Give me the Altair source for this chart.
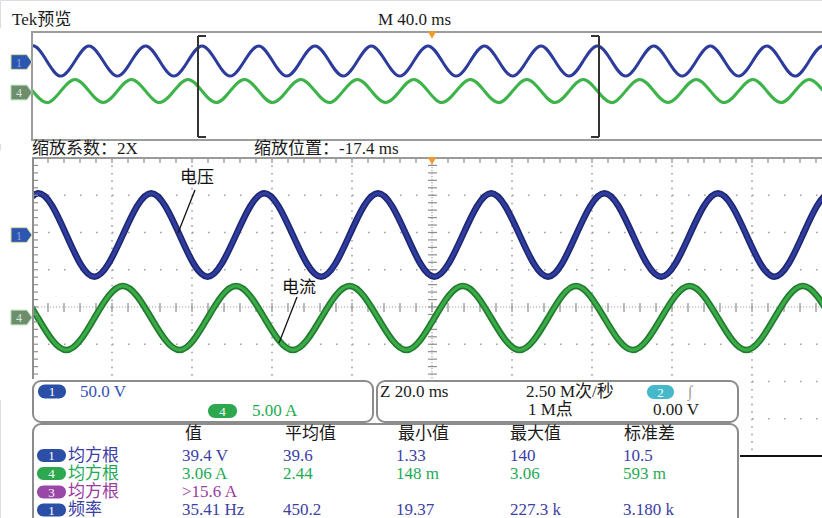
import altair as alt
import pandas as pd

FONT = "Liberation Serif, Noto Sans CJK SC, sans-serif"

# ---------------- values ----------------
# zoomed window (Z 20.0 ms/div): time in ms from the left graticule edge
main_t = [-12.6, -5.5, 1.5, 8.6, 15.6, 22.7, 29.8, 36.9, 43.9, 51.0, 58.1, 65.2,
          72.3, 79.4, 86.5, 93.6, 100.6, 107.7, 114.8, 121.9, 129.0, 136.0, 143.1,
          150.2, 157.3, 164.4, 171.5, 178.6, 185.6, 192.7, 199.8, 206.9, 214.0]
main_volt = [-56, 0, 56, 0, -56, 0, 56, 0, -56, 0, 56, 0, -56, 0, 56, 0,
             -56, 0, 56, 0, -56, 0, 56, 0, -56, 0, 56, 0, -56, 0, 56, 0, -56]
main_amp = [0, 4.3, 0, -4.3, 0, 4.3, 0, -4.3, 0, 4.3, 0, -4.3, 0, 4.3, 0, -4.3,
            0, 4.3, 0, -4.3, 0, 4.3, 0, -4.3, 0, 4.3, 0, -4.3, 0, 4.3, 0, -4.3, 0]

# preview window (M 40.0 ms/div)
prev_t = [-13.8, -6.8, 0.3, 7.4, 14.4, 21.5, 28.5, 35.6, 42.7, 49.7, 56.8, 63.8,
          70.9, 78.0, 85.0, 92.1, 99.1, 106.2, 113.3, 120.3, 127.4, 134.4, 141.5,
          148.6, 155.6, 162.7, 169.7, 176.8, 183.9, 190.9, 198.0, 205.0, 212.1,
          219.2, 226.2, 233.3, 240.3, 247.4, 254.5, 261.5, 268.6, 275.6, 282.7,
          289.8, 296.8, 303.9, 310.9, 318.0, 325.1, 332.1, 339.2, 346.2, 353.3,
          360.4, 367.4, 374.5, 381.5, 388.6, 395.7, 402.7, 409.8]
prev_volt = [-56, 0, 56, 0, -56, 0, 56, 0, -56, 0, 56, 0, -56, 0, 56, 0,
             -56, 0, 56, 0, -56, 0, 56, 0, -56, 0, 56, 0, -56, 0, 56, 0,
             -56, 0, 56, 0, -56, 0, 56, 0, -56, 0, 56, 0, -56, 0, 56, 0,
             -56, 0, 56, 0, -56, 0, 56, 0, -56, 0, 56, 0, -56]
prev_amp = [0, 4.3, 0, -4.3, 0, 4.3, 0, -4.3, 0, 4.3, 0, -4.3, 0, 4.3, 0, -4.3,
            0, 4.3, 0, -4.3, 0, 4.3, 0, -4.3, 0, 4.3, 0, -4.3, 0, 4.3, 0, -4.3,
            0, 4.3, 0, -4.3, 0, 4.3, 0, -4.3, 0, 4.3, 0, -4.3, 0, 4.3, 0, -4.3,
            0, 4.3, 0, -4.3, 0, 4.3, 0, -4.3, 0, 4.3, 0, -4.3, 0]
zoom_window = [83.0, 283.5]  # ms in the preview

meas_headers = ["值", "平均值", "最小值", "最大值", "标准差"]
meas_channels = ["1", "4", "3", "1"]
meas_names = ["均方根", "均方根", "均方根", "频率"]
meas_value = ["39.4 V", "3.06 A", ">15.6 A", "35.41 Hz"]
meas_mean = ["39.6", "2.44", "", "450.2"]
meas_min = ["1.33", "148 m", "", "19.37"]
meas_max = ["140", "3.06", "", "227.3 k"]
meas_std = ["10.5", "593 m", "", "3.180 k"]

# ---------------- scales ----------------
def S(dom, rng):
    return alt.Scale(domain=dom, range=rng, nice=False, zero=False)

MAIN_X = S([0, 200], [32, 832])
PREV_X = S([0, 400], [32, 832])
MAIN_V = S([-100, 100], [309.5, 160.5])
MAIN_I = S([-10, 10], [392.5, 243.5])
PREV_V = S([-100, 100], [88, 34])
PREV_I = S([-10, 10], [118, 64])
DIV_X = S([0, 10], [32, 832])
DIV_Y = S([-4, 4], [456, 158])

ONE = pd.DataFrame({"k": [0]})
L = []


def txt(s, x, y, color="#1a1a1a", size=17, align="left"):
    return alt.Chart(ONE).mark_text(text=s, align=align, baseline="middle", font=FONT,
                                    fontSize=size, color=color).encode(
        x=alt.value(x), y=alt.value(y))


def box(x1, y1, x2, y2, fill="white", stroke="white", sw=0, r=0, fop=1):
    return alt.Chart(ONE).mark_rect(fill=fill, stroke=stroke, strokeWidth=sw,
                                    cornerRadius=r, fillOpacity=fop).encode(
        x=alt.value(x1), x2=alt.value(x2), y=alt.value(y1), y2=alt.value(y2))


def seg(x1, y1, x2, y2, color="#111", w=1.3, dash=None):
    kw = dict(color=color, strokeWidth=w)
    if dash:
        kw["strokeDash"] = dash
    return alt.Chart(ONE).mark_rule(**kw).encode(
        x=alt.value(x1), y=alt.value(y1), x2=alt.value(x2), y2=alt.value(y2))


def pill(x1, y1, x2, y2, fill, label):
    return [box(x1, y1, x2, y2, fill=fill, stroke=fill, sw=0, r=(y2 - y1) / 2),
            txt(label, (x1 + x2) / 2, (y1 + y2) / 2 + 0.5, "white", 13, "center")]


GRID = "#a3a3a3"
# ---------------- main graticule ----------------
L.append(alt.Chart(pd.DataFrame({"d": [1, 2, 3, 4, 6, 7, 8, 9]})).mark_rule(
    color=GRID, strokeWidth=1.6, strokeDash=[1.6, 5.85]).encode(
    x=alt.X("d:Q", scale=DIV_X, axis=None), y=alt.value(158), y2=alt.value(456)))
L.append(alt.Chart(pd.DataFrame({"d": [-3, -2, -1, 1, 2, 3]})).mark_rule(
    color=GRID, strokeWidth=1.6, strokeDash=[1.6, 14.4]).encode(
    y=alt.Y("d:Q", scale=DIV_Y, axis=None), x=alt.value(32), x2=alt.value(832)))
L.append(seg(432, 158, 432, 456, GRID, 1.2, [1.2, 1.8]))
L.append(seg(32, 307, 832, 307, GRID, 1.2, [1.2, 1.8]))
yt = pd.DataFrame({"d": [-4 + 0.2 * k for k in range(41)]})
xt = pd.DataFrame({"d": [0.2 * k for k in range(51)]})
L.append(alt.Chart(yt).mark_rule(color="#8f8f8f", strokeWidth=1.2).encode(
    y=alt.Y("d:Q", scale=DIV_Y, axis=None), x=alt.value(428), x2=alt.value(437)))
L.append(alt.Chart(xt).mark_rule(color="#8f8f8f", strokeWidth=1.2).encode(
    x=alt.X("d:Q", scale=DIV_X, axis=None), y=alt.value(303), y2=alt.value(312)))
L.append(alt.Chart(xt).mark_rule(color="#8f8f8f", strokeWidth=1.2).encode(
    x=alt.X("d:Q", scale=DIV_X, axis=None), y=alt.value(158), y2=alt.value(163)))
L.append(seg(32, 158, 822, 158, "#9a9a9a", 2))
L.append(seg(32, 456, 822, 456, "#111", 2))

# ---------------- traces ----------------
main_df = pd.DataFrame({"t": main_t, "v": main_volt, "i": main_amp})
prev_df = pd.DataFrame({"t": prev_t, "v": prev_volt, "i": prev_amp})


def trace(df, yf, xsc, ysc, color, w):
    return alt.Chart(df).mark_line(color=color, strokeWidth=w, interpolate="natural",
                                   clip=True, strokeJoin="round").encode(
        x=alt.X("t:Q", scale=xsc, axis=None),
        y=alt.Y(f"{yf}:Q", scale=ysc, axis=None))


L += [trace(main_df, "v", MAIN_X, MAIN_V, "#1d2775", 6.5),
      trace(main_df, "v", MAIN_X, MAIN_V, "#303d9d", 3.2),
      trace(main_df, "i", MAIN_X, MAIN_I, "#217b2f", 6.5),
      trace(main_df, "i", MAIN_X, MAIN_I, "#3aab47", 3.2),
      trace(prev_df, "v", PREV_X, PREV_V, "#2d3c9c", 3),
      trace(prev_df, "i", PREV_X, PREV_I, "#3db34a", 3)]

# masks left of the graticules
L.append(box(0, 28, 31, 144))
L.append(box(0, 150, 32, 400))

# left border with ticks
L.append(seg(33, 158, 33, 456, "#8f8f8f", 2))
L.append(alt.Chart(yt).mark_rule(color="#8f8f8f", strokeWidth=1.2).encode(
    y=alt.Y("d:Q", scale=DIV_Y, axis=None), x=alt.value(33), x2=alt.value(38)))

# ---------------- preview frame & zoom bracket ----------------
L.append(box(32, 32, 840, 140, fill="white", stroke="#9c9c9c", sw=2, fop=0))
L.append(alt.Chart(pd.DataFrame({"t": zoom_window})).mark_rule(color="#333", strokeWidth=2).encode(
    x=alt.X("t:Q", scale=PREV_X, axis=None), y=alt.value(36), y2=alt.value(137)))
brt = pd.DataFrame({"a": [zoom_window[0], zoom_window[1] - 4], "b": [zoom_window[0] + 4, zoom_window[1]]})
for yy in (36, 137):
    L.append(alt.Chart(brt).mark_rule(color="#333", strokeWidth=2).encode(
        x=alt.X("a:Q", scale=PREV_X, axis=None), x2="b:Q", y=alt.value(yy)))

# trigger markers
for yy in (35, 161):
    L.append(alt.Chart(ONE).mark_point(shape="triangle-down", filled=True, color="#f39a2e",
                                       size=75, opacity=1).encode(x=alt.value(432), y=alt.value(yy)))

# channel markers
PENT = "M-1,-0.7 L0.5,-0.7 L1,0 L0.5,0.7 L-1,0.7 Z"


def chan(y, fill, stroke, label, lcolor):
    return [alt.Chart(ONE).mark_point(shape=PENT, filled=True, fill=fill, stroke=stroke,
                                      strokeWidth=1, size=441, opacity=1).encode(
        x=alt.value(21.5), y=alt.value(y)),
        txt(label, 19, y + 0.5, lcolor, 12, "center")]


L += chan(62, "#2c56b0", "#d6dba0", "1", "#8ea4e0")
L += chan(92.5, "#6d8d6d", "#a8dca8", "4", "#d8e8d8")
L += chan(235, "#2c56b0", "#d6dba0", "1", "#8ea4e0")
L += chan(317.5, "#6d8d6d", "#a8dca8", "4", "#d8e8d8")

# ---------------- header texts ----------------
L.append(txt("Tek预览", 12, 20))
L.append(txt("M 40.0 ms", 378, 20))
L.append(txt("缩放系数：2X", 32, 149))
L.append(txt("缩放位置：-17.4 ms", 254, 149))

# annotations
L.append(txt("电压", 180, 178, "#111", 17))
L.append(seg(195, 190, 178, 233))
L.append(txt("电流", 282, 288, "#111", 17))
L.append(seg(297, 297, 279, 343))

# ---------------- info boxes ----------------
L.append(box(32, 379, 740, 518))
L.append(box(33, 381, 373, 422, stroke="#8c8c8c", sw=2, r=8))
L.append(box(377, 381, 738, 422, stroke="#8c8c8c", sw=2, r=8))
L.append(box(33, 424, 738, 545, stroke="#8c8c8c", sw=2, r=8))

BLUE_T = "#3c40a6"
GREEN_T = "#1eaa55"
PURPLE_T = "#9b3ba2"
L += pill(38, 384.5, 66, 398.5, "#2b4ea6", "1")
L.append(txt("50.0 V", 80, 391.5, "#3550b5"))
L += pill(208, 404, 237, 418, "#2ea84e", "4")
L.append(txt("5.00 A", 252, 411, "#20aa50"))

L.append(txt("Z 20.0 ms", 380, 391.5))
L.append(txt("2.50 M次/秒", 526, 391.5))
L.append(txt("1 M点", 528, 410))
L += pill(647, 385, 674, 399, "#45b9c9", "2")
L.append(txt("∫", 690, 391.5, "#9a9a9a", 16, "center"))
L.append(txt("0.00 V", 653, 410))

head_x = [185, 285, 398, 510, 624]
col_x = [182, 283, 396, 510, 623]
row_y = [455.5, 473.5, 492, 510]
row_color = [BLUE_T, GREEN_T, PURPLE_T, BLUE_T]
pill_color = ["#2b4ea6", "#2ea84e", "#9a48a8", "#2b4ea6"]
for h, x in zip(meas_headers, head_x):
    L.append(txt(h, x, 434))
cols = [meas_value, meas_mean, meas_min, meas_max, meas_std]
for r in range(4):
    y = row_y[r]
    L += pill(37, y - 6.5, 66, y + 6.5, pill_color[r], meas_channels[r])
    L.append(txt(meas_names[r], 68, y, row_color[r]))
    for c, x in zip(cols, col_x):
        if c[r]:
            L.append(txt(c[r], x, y, row_color[r]))

chart = alt.layer(*L).resolve_scale(x="independent", y="independent").properties(
    width=822, height=518, padding=0, autosize=alt.AutoSizeParams(type="none")
).configure_view(stroke=None).configure(background="white")

chart.save("out.html", embed_options={"renderer": "svg", "actions": False})
